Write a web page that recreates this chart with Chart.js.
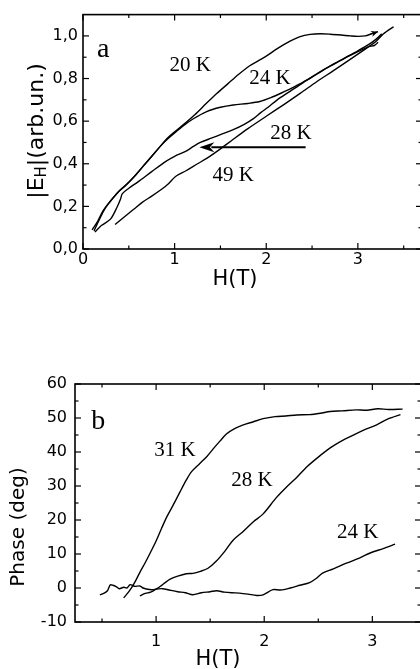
<!DOCTYPE html>
<html><head><meta charset="utf-8">
<script src="https://cdn.jsdelivr.net/npm/chart.js@4/dist/chart.umd.min.js"></script>
<style>
html,body{margin:0;padding:0;background:#fff;overflow:hidden;width:420px;height:669px;}
#wrapA{position:absolute;left:0;top:0;width:440px;height:300px;}
#wrapB{position:absolute;left:0;top:340px;width:440px;height:329px;}
</style></head><body>
<div id="wrapA"><canvas id="cA" width="440" height="300"></canvas></div>
<div id="wrapB"><canvas id="cB" width="440" height="329"></canvas></div>
<script>
// ---------- Panel a data: |E_H| vs H ----------
const curveA20K = [[0.10,0.09],[0.16,0.13],[0.22,0.18],[0.30,0.225],[0.39,0.27],[0.48,0.305],[0.58,0.35],[0.68,0.40],[0.78,0.45],[0.86,0.49],[0.92,0.52],[1.00,0.55],[1.10,0.585],[1.22,0.63],[1.35,0.685],[1.46,0.73],[1.58,0.775],[1.70,0.82],[1.82,0.86],[1.92,0.885],[2.00,0.905],[2.12,0.94],[2.26,0.975],[2.37,0.997],[2.48,1.007],[2.59,1.01],[2.70,1.008],[2.82,1.004],[2.92,1.0],[3.00,0.998],[3.08,1.0],[3.15,1.01],[3.22,1.02]];
const curveA24K = [[0.12,0.085],[0.18,0.14],[0.24,0.19],[0.31,0.23],[0.39,0.27],[0.47,0.30],[0.56,0.34],[0.66,0.39],[0.76,0.44],[0.85,0.485],[0.92,0.515],[1.00,0.545],[1.10,0.58],[1.20,0.61],[1.35,0.645],[1.50,0.665],[1.64,0.676],[1.80,0.683],[1.93,0.692],[2.05,0.71],[2.19,0.737],[2.30,0.76],[2.45,0.795],[2.60,0.835],[2.75,0.87],[2.90,0.905],[3.02,0.93],[3.12,0.95],[3.18,0.955],[3.22,0.97]];
const curveA28K = [[0.13,0.08],[0.20,0.11],[0.30,0.14],[0.37,0.195],[0.41,0.235],[0.43,0.26],[0.50,0.285],[0.60,0.315],[0.75,0.363],[0.90,0.41],[1.00,0.435],[1.12,0.458],[1.20,0.48],[1.28,0.50],[1.40,0.52],[1.52,0.54],[1.64,0.56],[1.76,0.585],[1.86,0.612],[1.94,0.64],[2.02,0.665],[2.12,0.70],[2.26,0.74],[2.40,0.78],[2.55,0.82],[2.70,0.86],[2.85,0.895],[3.00,0.93],[3.12,0.96],[3.20,0.985],[3.26,1.01]];
const curveA49K = [[0.35,0.115],[0.45,0.15],[0.55,0.185],[0.65,0.22],[0.75,0.248],[0.85,0.278],[0.93,0.305],[1.01,0.34],[1.12,0.366],[1.25,0.40],[1.35,0.425],[1.50,0.47],[1.64,0.515],[1.80,0.565],[2.00,0.623],[2.20,0.68],[2.37,0.73],[2.55,0.785],[2.73,0.836],[2.90,0.885],[3.10,0.944],[3.20,0.975],[3.28,1.01],[3.39,1.043]];
const arrowA = [[2.43,0.478],[1.27,0.478]];
const xTicksA = [0,1,2,3];
const xMinorA = [0.5,1.5,2.5,3.5];
const yTicksA = [0,0.2,0.4,0.6,0.8,1.0];
const yLabelsA = ['0,0','0,2','0,4','0,6','0,8','1,0'];
const yMinorA = [0.1,0.3,0.5,0.7,0.9];
const labelsA = [['a',0.22,0.936,'28px "Liberation Serif"'],['20 K',1.17,0.863,'21px "Liberation Serif"'],['24 K',2.04,0.80,'21px "Liberation Serif"'],['28 K',2.27,0.542,'21px "Liberation Serif"'],['49 K',1.64,0.345,'21px "Liberation Serif"']];

// ---------- Panel b data: Phase vs H ----------
const curveB31K = [[0.70,-2.9],[0.75,-1.0],[0.80,1.5],[0.85,4.6],[0.90,7.5],[0.95,10.6],[1.00,13.8],[1.05,17.5],[1.10,21.0],[1.16,24.5],[1.22,28.2],[1.28,31.8],[1.33,34.3],[1.40,36.5],[1.47,38.7],[1.53,41.0],[1.59,43.2],[1.65,45.3],[1.71,46.6],[1.80,47.9],[1.90,48.9],[1.99,49.8],[2.10,50.4],[2.20,50.6],[2.30,50.9],[2.42,51.0],[2.52,51.4],[2.61,51.9],[2.72,52.1],[2.85,52.4],[2.95,52.3],[3.05,52.7],[3.15,52.5],[3.28,52.6]];
const curveB28K = [[0.85,-2.3],[0.90,-1.6],[0.95,-1.2],[1.00,-0.3],[1.04,0.5],[1.08,1.5],[1.13,2.6],[1.20,3.5],[1.28,4.2],[1.34,4.3],[1.41,4.9],[1.48,5.8],[1.56,8.0],[1.64,11.0],[1.71,14.0],[1.80,16.5],[1.90,19.5],[1.99,21.8],[2.11,26.5],[2.20,29.5],[2.30,32.5],[2.40,35.8],[2.50,38.5],[2.61,41.2],[2.70,43.0],[2.80,44.6],[2.91,46.3],[3.04,48.0],[3.15,49.8],[3.26,51.0]];
const curveB24K = [[0.48,-2.0],[0.52,-1.5],[0.55,-0.8],[0.575,0.9],[0.60,0.8],[0.63,0.4],[0.66,-0.2],[0.70,0.2],[0.73,0.0],[0.76,1.0],[0.80,0.5],[0.85,0.6],[0.88,0.0],[0.91,-0.3],[0.96,-0.5],[1.01,-0.3],[1.06,-0.2],[1.12,-0.6],[1.20,-1.1],[1.27,-1.4],[1.34,-2.0],[1.42,-1.4],[1.50,-1.1],[1.56,-0.8],[1.63,-1.2],[1.70,-1.4],[1.77,-1.5],[1.85,-1.8],[1.93,-2.2],[1.99,-2.0],[2.08,-0.5],[2.15,-0.6],[2.24,0.0],[2.33,0.8],[2.42,1.6],[2.48,2.8],[2.54,4.4],[2.64,5.6],[2.76,7.3],[2.88,8.8],[2.98,10.3],[3.10,11.6],[3.21,12.9]];
const xTicksB = [1,2,3];
const xMinorB = [0.5,1.5,2.5];
const yTicksB = [-10,0,10,20,30,40,50,60];
const yLabelsB = ['-10','0','10','20','30','40','50','60'];
const yMinorB = [-5,5,15,25,35,45,55];
const labelsB = [['b',0.464,48.9,'28px "Liberation Serif"'],['31 K',1.175,40.4,'21px "Liberation Serif"'],['28 K',1.886,31.6,'21px "Liberation Serif"'],['24 K',2.865,16.3,'21px "Liberation Serif"']];

const toXY = arr => arr.map(p => ({x:p[0], y:p[1]}));
const lineDS = arr => ({data: toXY(arr), borderColor:'#000', borderWidth:1.4, pointRadius:0, tension:0.3, fill:false});

const deco = {
  id:'deco',
  afterDatasetsDraw(chart, args, o) {
    const {ctx, chartArea:ca, scales:{x, y}} = chart;
    ctx.save();
    ctx.strokeStyle = '#000'; ctx.fillStyle = '#000';
    ctx.lineWidth = 1.6;
    ctx.strokeRect(ca.left, ca.top, ca.right - ca.left, ca.bottom - ca.top);
    ctx.lineWidth = 1.2;
    const seg = (a,b,c,d) => { ctx.beginPath(); ctx.moveTo(a,b); ctx.lineTo(c,d); ctx.stroke(); };
    const xt = (vals, len) => vals.forEach(v => { const p = x.getPixelForValue(v); seg(p, ca.bottom, p, ca.bottom - len); seg(p, ca.top, p, ca.top + len); });
    const yt = (vals, len) => vals.forEach(v => { const p = y.getPixelForValue(v); seg(ca.left, p, ca.left + len, p); seg(ca.right, p, ca.right - len, p); });
    xt(o.xMajor, 6); xt(o.xMinor, 3.5); yt(o.yMajor, 6); yt(o.yMinor, 3.5);
    // annotations
    ctx.textAlign = 'center'; ctx.textBaseline = 'middle';
    o.labels.forEach(l => { ctx.font = l[3]; ctx.fillText(l[0], x.getPixelForValue(l[1]), y.getPixelForValue(l[2])); });
    // arrows
    (o.arrows || []).forEach(a => {
      const x0 = x.getPixelForValue(a[0][0]), y0 = y.getPixelForValue(a[0][1]);
      const x1 = x.getPixelForValue(a[1][0]), y1 = y.getPixelForValue(a[1][1]);
      const ang = Math.atan2(y1 - y0, x1 - x0);
      const hl = a[2], hw = a[3];
      ctx.lineWidth = a[4];
      seg(x0, y0, x1 - Math.cos(ang)*hl*0.8, y1 - Math.sin(ang)*hl*0.8);
      ctx.beginPath();
      ctx.moveTo(x1, y1);
      ctx.lineTo(x1 - Math.cos(ang)*hl - Math.sin(ang)*hw, y1 - Math.sin(ang)*hl + Math.cos(ang)*hw);
      ctx.lineTo(x1 - Math.cos(ang)*hl*0.7, y1 - Math.sin(ang)*hl*0.7);
      ctx.lineTo(x1 - Math.cos(ang)*hl + Math.sin(ang)*hw, y1 - Math.sin(ang)*hl - Math.cos(ang)*hw);
      ctx.closePath(); ctx.fill();
    });
    // axis titles
    ctx.font = o.xTitle[3]; ctx.textAlign = 'center'; ctx.textBaseline = 'middle';
    ctx.fillText(o.xTitle[0], o.xTitle[1], o.xTitle[2]);
    ctx.translate(o.yTitle.cx, o.yTitle.cy); ctx.rotate(-Math.PI/2);
    let total = 0;
    o.yTitle.parts.forEach(p => { ctx.font = p[1]; p.w = ctx.measureText(p[0]).width; total += p.w; });
    let px = -total/2; ctx.textAlign = 'left';
    o.yTitle.parts.forEach(p => { ctx.font = p[1]; ctx.fillText(p[0], px, p[2]); px += p.w; });
    ctx.restore();
  }
};

function makeScales(xmin, xmax, xTicks, ymin, ymax, yTicks, yLabels, yW, xH, yPad, xPad) {
  return {
    x: {type:'linear', min:xmin, max:xmax,
        grid:{display:false, drawTicks:false}, border:{display:false},
        ticks:{padding:xPad, color:'#000', font:{family:'DejaVu Sans', size:16}, autoSkip:false, maxRotation:0,
               callback:(v) => String(v)},
        afterBuildTicks:(s) => { s.ticks = xTicks.map(v => ({value:v})); },
        afterFit:(s) => { s.height = xH; }},
    y: {type:'linear', min:ymin, max:ymax,
        grid:{display:false, drawTicks:false}, border:{display:false},
        ticks:{padding:yPad, color:'#000', font:{family:'DejaVu Sans', size:16}, autoSkip:false,
               callback:(v) => { const i = yTicks.findIndex(t => Math.abs(t - v) < 1e-9); return i >= 0 ? yLabels[i] : ''; }},
        afterBuildTicks:(s) => { s.ticks = yTicks.map(v => ({value:v})); },
        afterFit:(s) => { s.width = yW; }}
  };
}

new Chart(document.getElementById('cA'), {
  type:'line',
  data:{datasets:[lineDS(curveA20K), lineDS(curveA24K), lineDS(curveA28K), lineDS(curveA49K)]},
  options:{
    responsive:false, animation:false, events:[],
    layout:{padding:{left:0, top:9, right:18, bottom:0}},
    scales: makeScales(0, 3.7, xTicksA, 0, 1.1, yTicksA, yLabelsA, 83, 51, 5, 1),
    plugins:{legend:{display:false}, tooltip:{enabled:false},
      deco:{xMajor:xTicksA, xMinor:xMinorA, yMajor:yTicksA, yMinor:yMinorA, labels:labelsA,
            arrows:[[arrowA[0], arrowA[1], 15, 5, 2], [curveA20K[curveA20K.length-2], curveA20K[curveA20K.length-1], 7, 3, 1.2]],
            xTitle:['H(T)', 235, 280, '21px "DejaVu Sans"'],
            yTitle:{cx:37, cy:131, parts:[['|E','22px "DejaVu Sans"',0],['H','15px "DejaVu Sans"',5],['|(arb.un.)','22px "DejaVu Sans"',0]]}}}
  },
  plugins:[deco]
});

new Chart(document.getElementById('cB'), {
  type:'line',
  data:{datasets:[lineDS(curveB31K), lineDS(curveB28K), lineDS(curveB24K)]},
  options:{
    responsive:false, animation:false, events:[],
    layout:{padding:{left:0, top:44, right:19, bottom:0}},
    scales: makeScales(0.25, 3.45, xTicksB, -10, 60, yTicksB, yLabelsB, 75, 47, 8, 10),
    plugins:{legend:{display:false}, tooltip:{enabled:false},
      deco:{xMajor:xTicksB, xMinor:xMinorB, yMajor:yTicksB, yMinor:yMinorB, labels:labelsB, arrows:[],
            xTitle:['H(T)', 218, 320, '21px "DejaVu Sans"'],
            yTitle:{cx:19, cy:187, parts:[['Phase (deg)','20px "DejaVu Sans"',0]]}}}
  },
  plugins:[deco]
});
</script>
</body></html>
